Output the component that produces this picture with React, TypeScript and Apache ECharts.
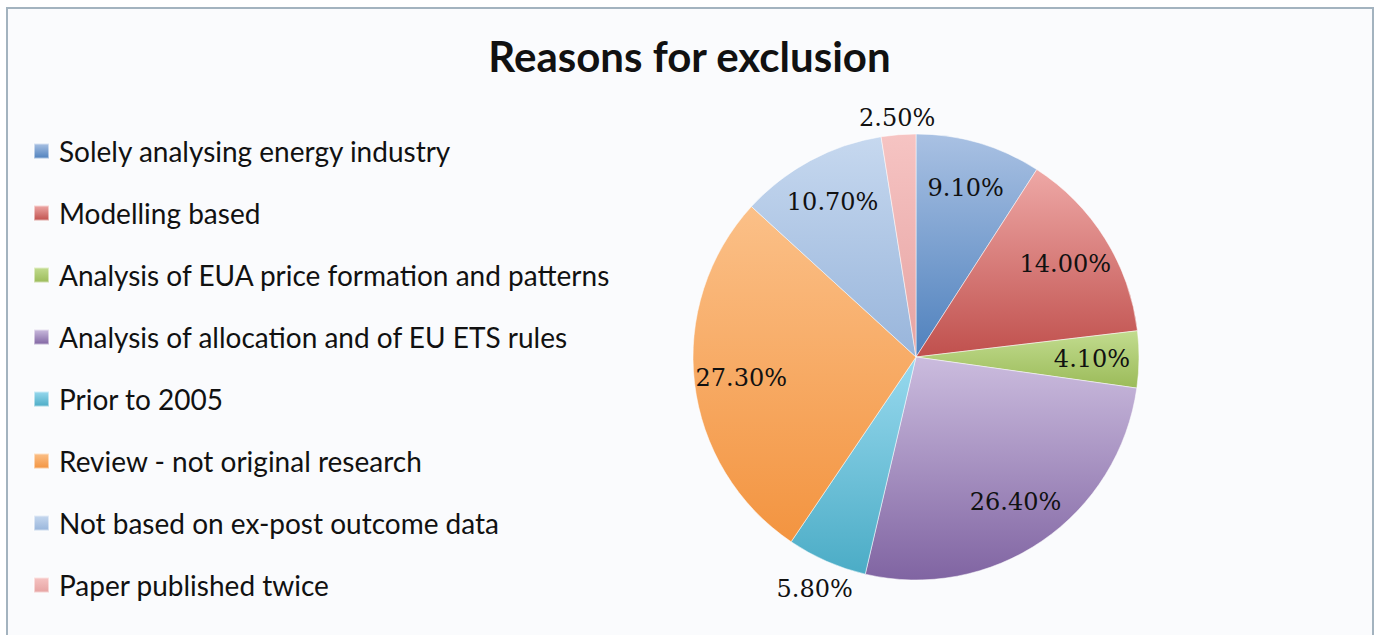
import React, { useEffect, useRef } from "react";
import * as echarts from "echarts";

const TITLE = "Reasons for exclusion";
const categories = [
  "Solely analysing energy industry",
  "Modelling based",
  "Analysis of EUA price formation and patterns",
  "Analysis of allocation and of EU ETS rules",
  "Prior to 2005",
  "Review - not original research",
  "Not based on ex-post outcome data",
  "Paper published twice",
];
const values = [9.1, 14.0, 4.1, 26.4, 5.8, 27.3, 10.7, 2.5];
const lightColors = ["#a9c1e3", "#eea8a6", "#c2dc8f", "#cbbcde", "#98d9ee", "#fbc088", "#c6d8ef", "#f6c4c3"];
const darkColors = ["#4f81bd", "#c0504d", "#9bbb59", "#8064a2", "#4bacc6", "#f39440", "#98b5db", "#e6a3a2"];
// which labels sit outside the pie
const outsideLabels = ["Paper published twice", "Prior to 2005"];

function grad(i: number) {
  return new echarts.graphic.LinearGradient(0, 0, 0, 1, [
    { offset: 0, color: lightColors[i] },
    { offset: 1, color: darkColors[i] },
  ]);
}

const CX = 916;
const CY = 357;
const R = 223;

const labelStyle = {
  fontFamily: "DejaVu Serif",
  fontSize: 24,
  color: "#111",
};

function carrier(outerRadius: number, namesToShow: string[]) {
  return {
    type: "pie",
    silent: true,
    center: [CX, CY],
    radius: [0, outerRadius],
    startAngle: 90,
    clockwise: true,
    avoidLabelOverlap: false,
    labelLine: { show: false },
    itemStyle: { color: "rgba(0,0,0,0)", borderWidth: 0 },
    emphasis: { disabled: true },
    z: 5,
    data: categories.map((name, i) => ({
      name,
      value: values[i],
      label: {
        show: namesToShow.includes(name),
        position: "inside",
        formatter: `${values[i].toFixed(2)}%`,
        ...labelStyle,
      },
    })),
  };
}

export default function App() {
  const ref = useRef<HTMLDivElement>(null);
  useEffect(() => {
    if (!ref.current) return;
    const chart = echarts.init(ref.current, undefined, { renderer: "svg" });
    const inner = categories.filter((c) => !outsideLabels.includes(c));
    chart.setOption({
      animation: false,
      graphic: [
        {
          type: "rect",
          z: -10,
          shape: { x: 7, y: 8, width: 1366, height: 660 },
          style: { fill: "#fafbfd", stroke: "#a3b3bf", lineWidth: 2 },
          silent: true,
        },
      ],
      title: {
        text: TITLE,
        left: "center",
        top: 30,
        textStyle: { fontFamily: "Lato", fontWeight: "bold", fontSize: 42, color: "#111" },
      },
      legend: {
        orient: "vertical",
        left: 28,
        top: 115,
        itemWidth: 15,
        itemHeight: 15,
        itemGap: 0,
        icon: "rect",
        selectedMode: false,
        data: categories,
        textStyle: {
          fontFamily: "Lato",
          fontSize: 28,
          color: "#111",
          lineHeight: 62,
          padding: [0, 0, 0, 5],
        },
      },
      series: [
        {
          type: "pie",
          center: [CX, CY],
          radius: [0, R],
          startAngle: 90,
          clockwise: true,
          avoidLabelOverlap: false,
          label: { show: false },
          labelLine: { show: false },
          emphasis: { disabled: true },
          itemStyle: { borderColor: "rgba(255,255,255,0.5)", borderWidth: 1 },
          data: categories.map((name, i) => ({
            name,
            value: values[i],
            itemStyle: { color: grad(i) },
          })),
        },
        carrier(346, inner),
        carrier(474, ["Paper published twice"]),
        carrier(500, ["Prior to 2005"]),
      ],
    });
    return () => chart.dispose();
  }, []);
  return (
    <div
      ref={ref}
      style={{ position: "absolute", left: 0, top: 0, width: 1379, height: 635 }}
    />
  );
}
